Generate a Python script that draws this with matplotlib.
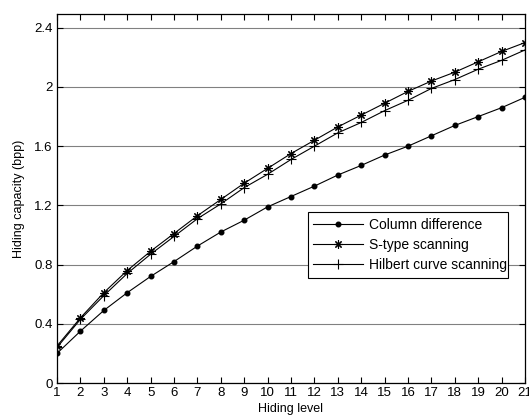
import matplotlib
matplotlib.use('Agg')
import matplotlib.pyplot as plt
import numpy as np

plt.rcParams['font.family'] = ['Liberation Sans', 'DejaVu Sans']

levels = np.arange(1, 22)
column_diff = [0.20, 0.35, 0.49, 0.61, 0.72, 0.82, 0.925, 1.02, 1.10, 1.19, 1.26,
               1.33, 1.405, 1.47, 1.54, 1.60, 1.67, 1.74, 1.80, 1.86, 1.93]
s_type = [0.25, 0.44, 0.61, 0.76, 0.89, 1.01, 1.13, 1.24, 1.35, 1.45, 1.55,
          1.64, 1.73, 1.81, 1.89, 1.97, 2.04, 2.10, 2.17, 2.24, 2.30]
hilbert = [0.24, 0.43, 0.59, 0.74, 0.87, 0.99, 1.11, 1.21, 1.32, 1.41, 1.51,
           1.60, 1.69, 1.76, 1.84, 1.91, 1.99, 2.05, 2.12, 2.18, 2.25]
yticks = [0, 0.4, 0.8, 1.2, 1.6, 2, 2.4]
ytick_labels = ['0', '0.4', '0.8', '1.2', '1.6', '2', '2.4']

fig = plt.figure(figsize=(5.29, 4.19), dpi=100)
ax = fig.add_axes([57/529, 1 - 383/419, 468/529, 369/419])

ax.plot(levels, column_diff, color='black', lw=0.8, marker='o', ms=3.3,
        label='Column difference')
ax.plot(levels, s_type, color='black', lw=0.8, marker=(8, 2, 0), ms=6, mew=0.8,
        label='S-type scanning')
ax.plot(levels, hilbert, color='black', lw=0.8, marker='+', ms=7, mew=0.8,
        label='Hilbert curve scanning')

ax.set_xlim(1, 21)
ax.set_ylim(0, 2.493)
ax.set_xticks(levels)
ax.set_yticks(yticks)
ax.set_yticklabels(ytick_labels)
ax.tick_params(direction='in', top=True, right=True, labelsize=9.5, length=4,
               width=0.8, pad=3)
ax.yaxis.grid(True, color='#808080', lw=0.8)
ax.set_axisbelow(True)
for s in ax.spines.values():
    s.set_linewidth(0.9)

ax.set_xlabel('Hiding level', fontsize=9, labelpad=3)
ax.set_ylabel('Hiding capacity (bpp)', fontsize=9, labelpad=7)

leg = ax.legend(loc='upper left', bbox_to_anchor=(0.536, 0.463, 0.428, 0.0),
                mode='expand', fontsize=10, frameon=True, fancybox=False,
                borderaxespad=0, handlelength=3.6, labelspacing=0.45,
                borderpad=0.4, handletextpad=0.4)
leg.get_frame().set_edgecolor('black')
leg.get_frame().set_linewidth(0.8)
leg.get_frame().set_alpha(1)

fig.savefig('out.png', dpi=100)
